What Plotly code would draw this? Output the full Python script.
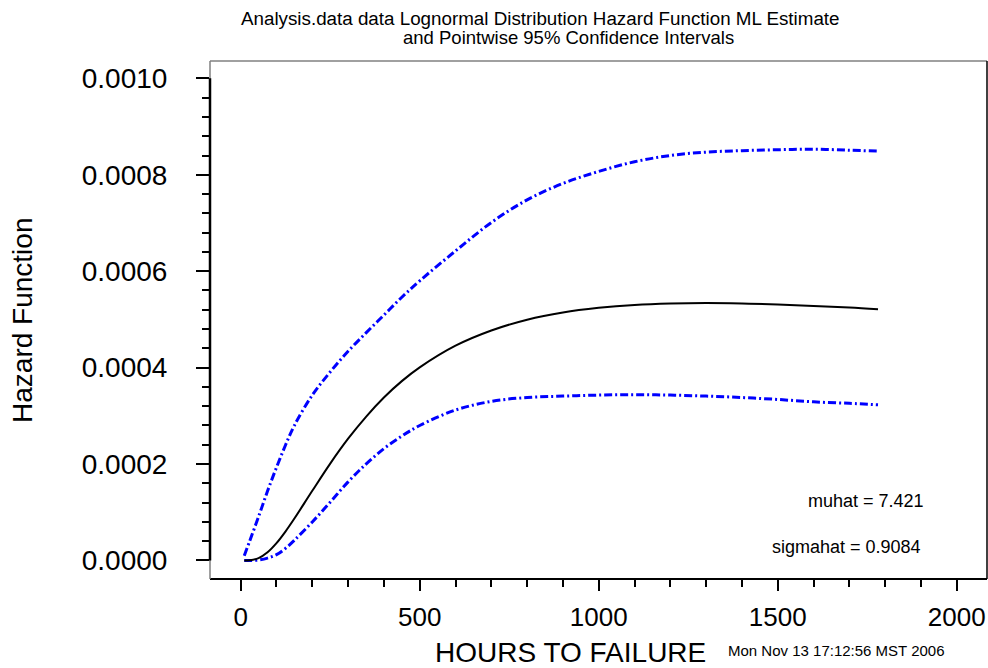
import plotly.graph_objects as go

# ---- data ----
hours = [10, 25, 50, 75, 100, 125, 150, 200, 250, 300, 350, 400, 450, 500, 600, 700, 800,
         900, 1000, 1100, 1200, 1300, 1400, 1500, 1600, 1700, 1780]
hazard_ml = [0.0, 0.0000004, 0.000005, 0.000017, 0.000036, 0.000060, 0.000087, 0.0001445,
             0.000201, 0.0002526, 0.000298, 0.000338, 0.000372, 0.0004005, 0.0004455,
             0.000477, 0.0004995, 0.0005145, 0.000524, 0.00053, 0.000533, 0.000534,
             0.000533, 0.000531, 0.000528, 0.0005246, 0.000521]
hazard_upper = [0.00001, 0.00004, 0.000091, 0.000144, 0.000193, 0.000239, 0.000280, 0.000343,
                0.000391, 0.000434, 0.000472, 0.000509, 0.000546, 0.000580, 0.000642,
                0.000701, 0.000748, 0.000782, 0.000807, 0.000827, 0.000840, 0.000847,
                0.000850, 0.000852, 0.000853, 0.000851, 0.000849]
hazard_lower = [0.0, 0.0, 0.000001, 0.000005, 0.000012, 0.000025, 0.000042, 0.000080,
                0.000121, 0.000163, 0.000200, 0.000232, 0.000258, 0.000280, 0.000312,
                0.000330, 0.000338, 0.000341, 0.000343, 0.000344, 0.000343, 0.000341,
                0.000338, 0.000334, 0.000329, 0.000326, 0.000323]

x_ticks = [0, 500, 1000, 1500, 2000]
x_tick_labels = ["0", "500", "1000", "1500", "2000"]
y_ticks = [0.0, 0.0002, 0.0004, 0.0006, 0.0008, 0.0010]
y_tick_labels = ["0.0000", "0.0002", "0.0004", "0.0006", "0.0008", "0.0010"]

title_line1 = "Analysis.data data Lognormal Distribution Hazard Function ML Estimate"
title_line2 = "and Pointwise 95% Confidence Intervals"
x_title = "HOURS TO FAILURE"
y_title = "Hazard Function"
muhat_text = "muhat = 7.421"
sigmahat_text = "sigmahat = 0.9084"
date_text = "Mon Nov 13 17:12:56 MST 2006"

FONT = "Liberation Sans, Arial, Helvetica, sans-serif"
BLUE = "#0000FF"

fig = go.Figure()
fig.add_trace(go.Scatter(x=hours, y=hazard_upper, mode="lines",
                         line=dict(color=BLUE, width=3, dash="8px,3px,2px,3px", shape="spline"),
                         hoverinfo="skip"))
fig.add_trace(go.Scatter(x=hours, y=hazard_lower, mode="lines",
                         line=dict(color=BLUE, width=3, dash="8px,3px,2px,3px", shape="spline"),
                         hoverinfo="skip"))
fig.add_trace(go.Scatter(x=hours, y=hazard_ml, mode="lines",
                         line=dict(color="black", width=2, shape="spline"),
                         hoverinfo="skip"))

fig.update_layout(
    width=988, height=668,
    margin=dict(l=210, r=1, t=61, b=89, pad=0),
    paper_bgcolor="white", plot_bgcolor="white",
    showlegend=False,
    font=dict(family=FONT, color="black"),
    xaxis=dict(range=[-85.7, 2084.4], tickvals=x_ticks, ticktext=x_tick_labels,
               ticks="outside", ticklen=11, tickwidth=1.5, tickcolor="black",
               minor=dict(dtick=100, tick0=0, ticks="outside", ticklen=7, tickwidth=1.5,
                          tickcolor="black", showgrid=False),
               showline=False, showgrid=False, zeroline=False,
               tickfont=dict(size=26, family=FONT), ticklabelstandoff=4),
    yaxis=dict(range=[-0.0000384, 0.001036], tickvals=y_ticks, ticktext=y_tick_labels,
               ticks="outside", ticklen=13, tickwidth=1.5, tickcolor="black",
               minor=dict(dtick=0.00004, tick0=0, ticks="outside", ticklen=7, tickwidth=1.5,
                          tickcolor="black", showgrid=False),
               showline=False, showgrid=False, zeroline=False,
               tickfont=dict(size=28, family=FONT), ticklabelstandoff=23),
)

# frame
fig.add_shape(type="line", xref="paper", yref="paper", x0=0, x1=1, y0=1, y1=1,
              line=dict(color="#808080", width=1.5))
fig.add_shape(type="line", xref="paper", yref="paper", x0=1, x1=1, y0=0, y1=1,
              line=dict(color="black", width=1.5))
fig.add_shape(type="line", xref="paper", yref="paper", x0=0, x1=1, y0=0, y1=0,
              line=dict(color="black", width=2))
fig.add_shape(type="line", xref="paper", yref="paper", x0=0, x1=0, y0=0, y1=1,
              line=dict(color="#808080", width=1.5))
fig.add_shape(type="line", xref="paper", yref="y", x0=0, x1=0, y0=y_ticks[0], y1=y_ticks[-1],
              line=dict(color="black", width=2.5))

def ann(text, x, y, size, xanchor="center", angle=0):
    fig.add_annotation(text=text, xref="paper", yref="paper", x=x, y=y,
                       xanchor=xanchor, yanchor="middle", showarrow=False,
                       textangle=angle, font=dict(size=size, family=FONT, color="black"))

ann(title_line1, 0.4254, 1.0830, 18.8)
ann(title_line2, 0.4614, 1.0463, 18.5)
ann(muhat_text, 0.9215, 0.1512, 18, xanchor="right")
ann(sigmahat_text, 0.9176, 0.0618, 18, xanchor="right")
ann(x_title, 0.4646, -0.1410, 28)
ann(date_text, 0.6640, -0.1371, 15, xanchor="left")
ann(y_title, -0.2420, 0.5, 28, angle=-90)

fig.write_html("out.html", config={"displayModeBar": False},
               post_script="document.body.style.margin='0px';document.body.style.overflow='hidden';")
